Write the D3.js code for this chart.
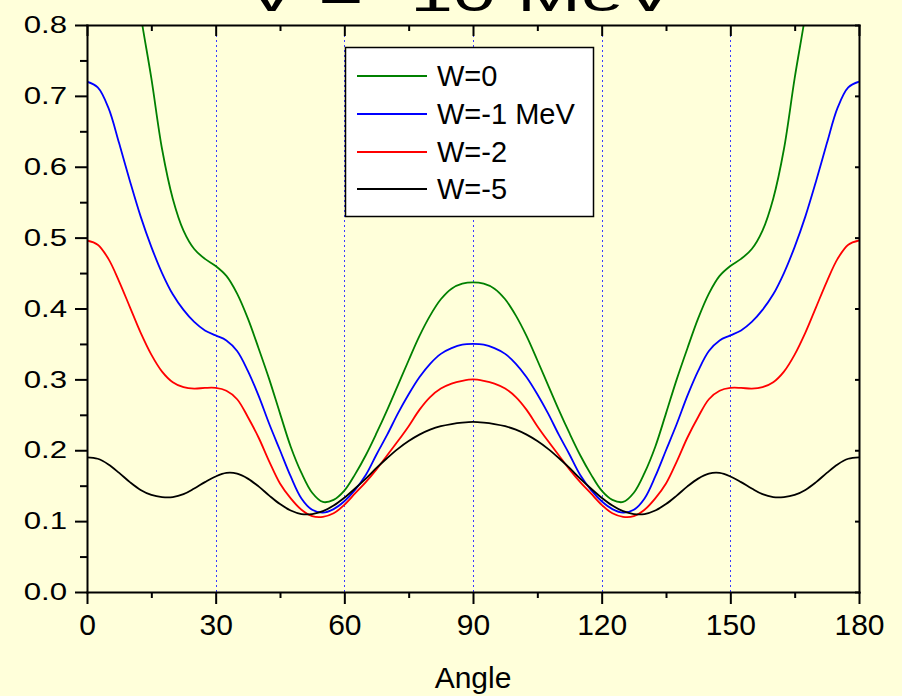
<!DOCTYPE html>
<html>
<head>
<meta charset="utf-8">
<script src="https://cdn.jsdelivr.net/npm/d3@7"></script>
<style>
  html, body { margin: 0; padding: 0; background: #FFFFDA; }
  svg { display: block; }
  text { font-family: "Liberation Sans", Arial, sans-serif; fill: #000; }
</style>
</head>
<body>
<svg id="chart" width="902" height="696"></svg>
<script>
// Scattering angle (degrees)
const angles = [0, 2.5, 5, 7.5, 10, 12.5, 15, 17.5, 20, 22.5, 25, 27.5, 30, 32.5, 35, 37.5, 40, 42.5, 45, 47.5,
  50, 52.5, 55, 57.5, 60, 62.5, 65, 67.5, 70, 72.5, 75, 77.5, 80, 82.5, 85, 87.5, 90, 92.5, 95, 97.5,
  100, 102.5, 105, 107.5, 110, 112.5, 115, 117.5, 120, 122.5, 125, 127.5, 130, 132.5, 135, 137.5, 140, 142.5,
  145, 147.5, 150, 152.5, 155, 157.5, 160, 162.5, 165, 167.5, 170, 172.5, 175, 177.5, 180];

// W = 0
const seriesW0 = [1.15, 1.13, 1.08, 1.00, 0.92, 0.815, 0.725, 0.625, 0.555, 0.510, 0.484, 0.470, 0.460, 0.446, 0.421,
  0.386, 0.344, 0.300, 0.252, 0.205, 0.168, 0.140, 0.127, 0.130, 0.143, 0.166, 0.193, 0.224, 0.257, 0.292, 0.327,
  0.361, 0.390, 0.413, 0.428, 0.435, 0.437,
  0.435, 0.428, 0.413, 0.390, 0.361, 0.327, 0.292, 0.257, 0.224, 0.193, 0.166, 0.143, 0.130, 0.127, 0.140, 0.168,
  0.205, 0.252, 0.300, 0.344, 0.386, 0.421, 0.446, 0.460, 0.470, 0.484, 0.510, 0.555, 0.625, 0.725, 0.815, 0.92,
  1.00, 1.08, 1.13, 1.15];

// W = -1 MeV
const seriesW1 = [0.720, 0.712, 0.683, 0.633, 0.580, 0.530, 0.487, 0.450, 0.420, 0.398, 0.381, 0.369, 0.362, 0.355,
  0.340, 0.312, 0.277, 0.237, 0.200, 0.163, 0.132, 0.116, 0.112, 0.117, 0.128, 0.144, 0.165, 0.194, 0.222, 0.252,
  0.279, 0.303, 0.322, 0.336, 0.344, 0.349, 0.350,
  0.349, 0.344, 0.336, 0.322, 0.303, 0.279, 0.252, 0.222, 0.194, 0.165, 0.144, 0.128, 0.117, 0.112, 0.116, 0.132,
  0.163, 0.200, 0.237, 0.277, 0.312, 0.340, 0.355, 0.362, 0.369, 0.381, 0.398, 0.420, 0.450, 0.487, 0.530, 0.580,
  0.633, 0.683, 0.712, 0.720];

// W = -2
const seriesW2 = [0.496, 0.490, 0.470, 0.438, 0.402, 0.366, 0.335, 0.311, 0.296, 0.289, 0.287, 0.288, 0.288, 0.284,
  0.272, 0.247, 0.218, 0.184, 0.153, 0.132, 0.116, 0.107, 0.106, 0.111, 0.123, 0.139, 0.155, 0.173, 0.193, 0.213,
  0.234, 0.257, 0.275, 0.287, 0.294, 0.298, 0.300,
  0.298, 0.294, 0.287, 0.275, 0.257, 0.234, 0.213, 0.193, 0.173, 0.155, 0.139, 0.123, 0.111, 0.106, 0.107, 0.116,
  0.132, 0.153, 0.184, 0.218, 0.247, 0.272, 0.284, 0.288, 0.288, 0.287, 0.289, 0.296, 0.311, 0.335, 0.366, 0.402,
  0.438, 0.470, 0.490, 0.496];

// W = -5
const seriesW5 = [0.190, 0.188, 0.180, 0.168, 0.155, 0.144, 0.137, 0.134, 0.134, 0.138, 0.146, 0.155, 0.163, 0.168,
  0.167, 0.160, 0.149, 0.136, 0.124, 0.115, 0.110, 0.110, 0.114, 0.122, 0.133, 0.146, 0.160, 0.175, 0.189, 0.202,
  0.213, 0.222, 0.229, 0.234, 0.237, 0.239, 0.240,
  0.239, 0.237, 0.234, 0.229, 0.222, 0.213, 0.202, 0.189, 0.175, 0.160, 0.146, 0.133, 0.122, 0.114, 0.110, 0.110,
  0.115, 0.124, 0.136, 0.149, 0.160, 0.167, 0.168, 0.163, 0.155, 0.146, 0.138, 0.134, 0.134, 0.137, 0.144, 0.155,
  0.168, 0.180, 0.188, 0.190];

const seriesNames = ["W=0", "W=-1 MeV", "W=-2", "W=-5"];
const seriesColors = ["#008000", "#0000ff", "#ff0000", "#000000"];

const xTicks = [0, 30, 60, 90, 120, 150, 180];
const xMinorTicks = [15, 45, 75, 105, 135, 165];
const yTicks = [0, 0.1, 0.2, 0.3, 0.4, 0.5, 0.6, 0.7, 0.8];
const yMinorTicks = [0.05, 0.15, 0.25, 0.35, 0.45, 0.55, 0.65, 0.75];
const gridAngles = [30, 60, 90, 120, 150];

const titleText = "V = -10 MeV";
const xTitle = "Angle";

// ---------------------------------------------------------------
(function draw() {
  const W = 902, H = 696;
  const plotLeft = 87, plotRight = 859, plotTop = 25, plotBottom = 592;

  const svg = d3.select("#chart");
  svg.append("rect").attr("width", W).attr("height", H).attr("fill", "#FFFFDA");

  const x = d3.scaleLinear().domain([0, 180]).range([plotLeft, plotRight]);
  const y = d3.scaleLinear().domain([0, 0.8]).range([plotBottom, plotTop]);

  // dotted vertical reference lines
  svg.append("g").selectAll("line").data(gridAngles).join("line")
    .attr("x1", d => Math.round(x(d)) + 0.5).attr("x2", d => Math.round(x(d)) + 0.5)
    .attr("y1", plotTop).attr("y2", plotBottom)
    .attr("stroke", "#3a3aff").attr("stroke-width", 1)
    .attr("stroke-dasharray", "2,3");

  // curves
  svg.append("clipPath").attr("id", "plotClip")
    .append("rect").attr("x", plotLeft).attr("y", plotTop)
    .attr("width", plotRight - plotLeft).attr("height", plotBottom - plotTop);

  const seriesValues = [seriesW0, seriesW1, seriesW2, seriesW5];
  const line = d3.line()
    .x(d => x(d[0])).y(d => y(d[1]))
    .curve(d3.curveCatmullRom.alpha(0.5));

  const curves = svg.append("g").attr("clip-path", "url(#plotClip)");
  seriesValues.forEach((vals, i) => {
    curves.append("path")
      .datum(angles.map((a, k) => [a, vals[k]]))
      .attr("d", line)
      .attr("fill", "none")
      .attr("stroke", seriesColors[i])
      .attr("stroke-width", 1.8);
  });

  // axes
  function styleAxis(g) {
    g.select(".domain").attr("stroke", "#000").attr("stroke-width", 2).attr("stroke-linecap", "square");
    g.selectAll(".tick line").attr("stroke", "#000").attr("stroke-width", 2);
  }
  function minorAxis(g) {
    g.select(".domain").remove();
    g.selectAll(".tick line").attr("stroke", "#000").attr("stroke-width", 2);
  }

  // bottom
  svg.append("g").attr("transform", `translate(0,${plotBottom})`)
    .call(d3.axisBottom(x).tickValues(xMinorTicks).tickSize(6).tickFormat(""))
    .call(minorAxis);
  const xAxisG = svg.append("g").attr("transform", `translate(0,${plotBottom})`)
    .call(d3.axisBottom(x).tickValues(xTicks).tickSize(12).tickPadding(10).tickSizeOuter(0).tickFormat(d3.format("d")))
    .call(styleAxis);
  xAxisG.attr("font-family", null).attr("font-size", null);
  xAxisG.selectAll(".tick text").attr("font-size", 30);

  // top
  svg.append("g").attr("transform", `translate(0,${plotTop})`)
    .call(d3.axisTop(x).tickValues(xMinorTicks).tickSize(-6).tickFormat(""))
    .call(minorAxis);
  svg.append("g").attr("transform", `translate(0,${plotTop})`)
    .call(d3.axisTop(x).tickValues(xTicks).tickSize(-11).tickSizeOuter(0).tickFormat(""))
    .call(styleAxis);

  // left
  svg.append("g").attr("transform", `translate(${plotLeft},0)`)
    .call(d3.axisLeft(y).tickValues(yMinorTicks).tickSize(7).tickFormat(""))
    .call(minorAxis);
  const yAxisG = svg.append("g").attr("transform", `translate(${plotLeft},0)`)
    .call(d3.axisLeft(y).tickValues(yTicks).tickSize(12).tickPadding(8).tickSizeOuter(0).tickFormat(d3.format(".1f")))
    .call(styleAxis);
  yAxisG.attr("font-family", null).attr("font-size", null);
  const yLabelStretch = 1.3;
  yAxisG.selectAll(".tick text")
    .attr("font-size", 24)
    .attr("x", -20 / yLabelStretch)
    .attr("transform", `scale(${yLabelStretch},1)`);

  // right
  svg.append("g").attr("transform", `translate(${plotRight},0)`)
    .call(d3.axisRight(y).tickValues(yTicks).tickSize(-4).tickSizeOuter(0).tickFormat(""))
    .call(styleAxis);

  // legend
  const legend = svg.append("g");
  legend.append("rect")
    .attr("x", 345.5).attr("y", 47.5).attr("width", 248).attr("height", 169)
    .attr("fill", "#ffffff").attr("stroke", "#000").attr("stroke-width", 1.5);
  const legendRows = [76, 114, 152, 189];
  seriesNames.forEach((name, i) => {
    legend.append("line")
      .attr("x1", 357).attr("x2", 427)
      .attr("y1", legendRows[i]).attr("y2", legendRows[i])
      .attr("stroke", seriesColors[i]).attr("stroke-width", 1.8);
    legend.append("text")
      .attr("x", 437).attr("y", legendRows[i]).attr("dy", "0.35em")
      .attr("font-size", 29).text(name);
  });

  // title, wide lettering running off the top edge
  const titleStretch = 1.6;
  svg.append("text")
    .attr("x", 246 / titleStretch).attr("y", 11)
    .attr("transform", `scale(${titleStretch},1)`)
    .attr("font-size", 48)
    .text(titleText);

  // x axis title
  svg.append("text")
    .attr("x", (plotLeft + plotRight) / 2).attr("y", 688)
    .attr("text-anchor", "middle").attr("font-size", 30)
    .text(xTitle);
})();
</script>
</body>
</html>
